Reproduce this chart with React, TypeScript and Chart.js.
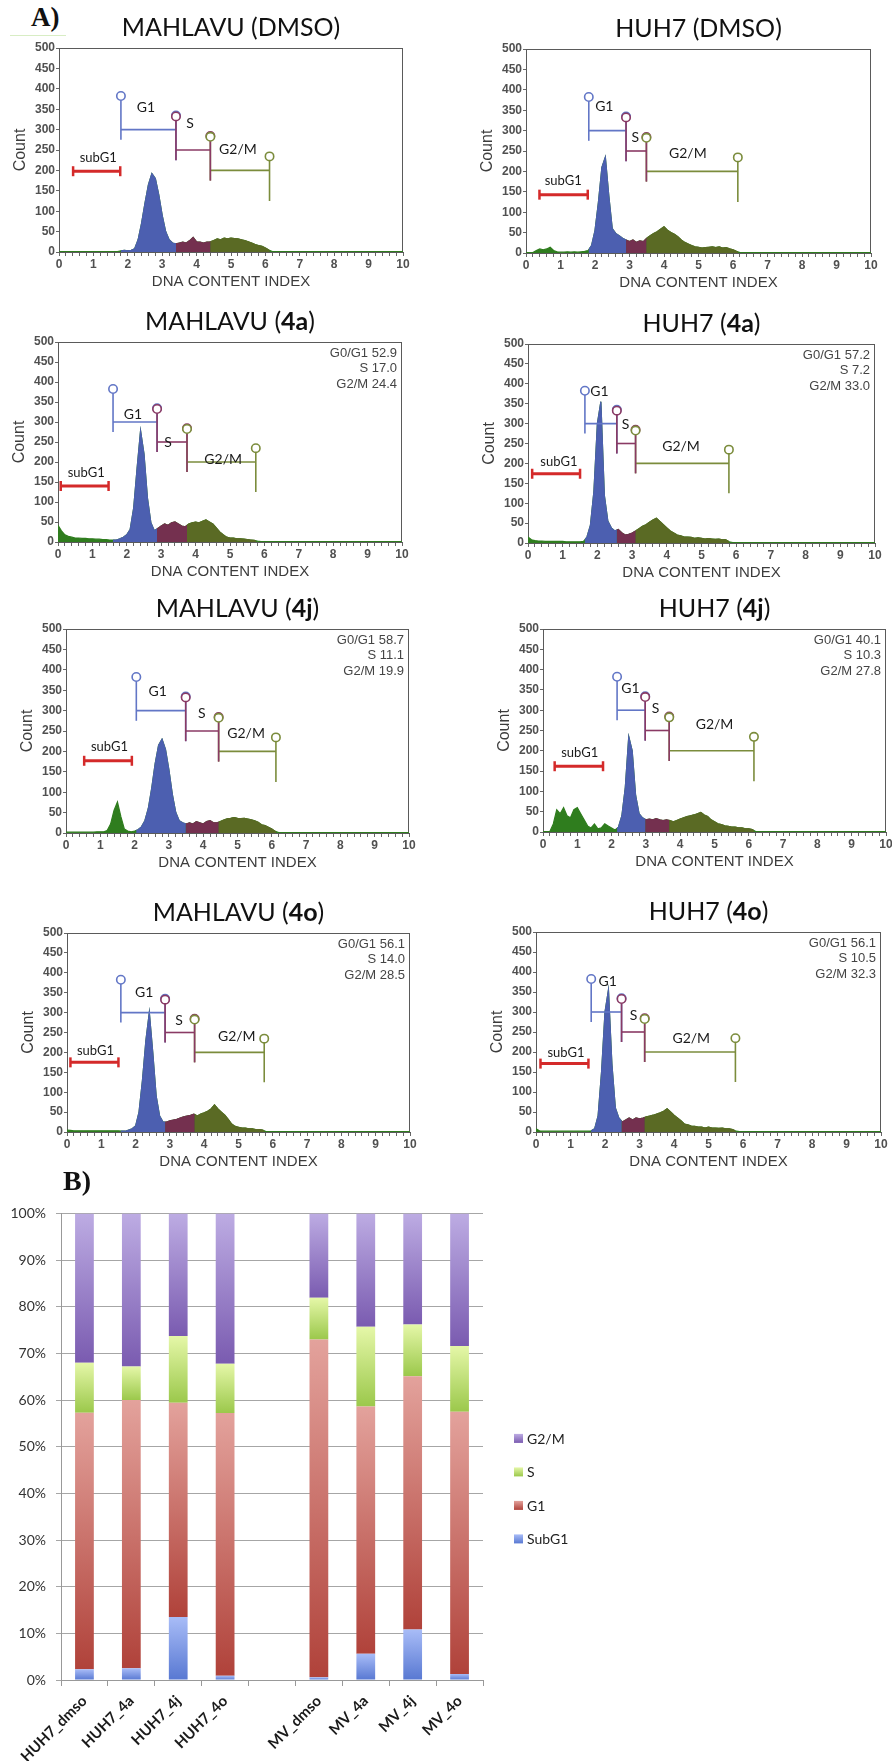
import React, { useEffect, useRef } from "react";
import { Chart, registerables } from "chart.js";

// ---------- clip plugin (registered before Filler so the fill is clipped to each gate) ----------
const gateClipPlugin = {
  id: "gateClip",
  beforeDatasetDraw(chart: any, args: any) {
    const ds = chart.data.datasets[args.index];
    if (!ds || !ds.clipRange) return;
    const { ctx, chartArea, scales } = chart;
    const x1 = scales.x.getPixelForValue(ds.clipRange[0]);
    const x2 = scales.x.getPixelForValue(ds.clipRange[1]);
    ctx.save();
    ctx.beginPath();
    ctx.rect(x1, chartArea.top - 5, x2 - x1, chartArea.bottom - chartArea.top + 10);
    ctx.clip();
  },
  afterDatasetDraw(chart: any, args: any) {
    const ds = chart.data.datasets[args.index];
    if (ds && ds.clipRange) chart.ctx.restore();
  },
};
Chart.register(gateClipPlugin);
Chart.register(...registerables);

// ---------- DATA: histograms, counts per DNA-index bin (0.0 .. 10.0, step 0.1) ----------
const MV_DMSO = [
  1, 1, 1, 1, 1, 1, 1, 1, 1, 1,
  1, 1, 1, 1, 1, 1, 1, 1, 3, 4,
  3, 4, 8, 30, 70, 120, 165, 192, 180, 140,
  90, 50, 30, 22, 20, 22, 24, 22, 28, 36,
  25, 24, 22, 24, 25, 28, 32, 30, 34, 32,
  34, 33, 32, 30, 28, 25, 22, 18, 16, 14,
  10, 5, 1, 1, 1, 1, 1, 1, 1, 1,
  1, 1, 1, 1, 1, 1, 1, 1, 1, 1,
  1, 1, 1, 1, 1, 1, 1, 1, 1, 1,
  1, 1, 1, 1, 1, 1, 1, 1, 1, 1,
  1,
];
const HUH7_DMSO = [
  1, 1, 1, 6, 10, 8, 10, 14, 6, 3,
  2, 2, 3, 2, 3, 2, 3, 4, 6, 18,
  55, 125, 210, 235, 140, 60, 48, 42, 36, 32,
  28, 32, 26, 30, 28, 36, 42, 48, 52, 58,
  64, 56, 50, 46, 40, 32, 26, 22, 18, 15,
  14, 12, 13, 14, 15, 13, 15, 12, 13, 10,
  8, 4, 1, 1, 1, 1, 1, 1, 1, 1,
  1, 1, 1, 1, 1, 1, 1, 1, 1, 1,
  1, 1, 1, 1, 1, 1, 1, 1, 1, 1,
  1, 1, 1, 1, 1, 1, 1, 1, 1, 1,
  1,
];
const MV_4A = [
  42, 28, 18, 14, 12, 10, 10, 9, 9, 8,
  8, 7, 7, 6, 6, 5, 5, 5, 8, 12,
  18, 32, 85, 185, 278, 220, 110, 48, 28, 34,
  40, 45, 42, 48, 50, 45, 40, 38, 45, 48,
  50, 48, 52, 55, 50, 45, 35, 25, 18, 12,
  10, 10, 8, 8, 7, 6, 5, 4, 2, 1,
  1, 1, 1, 1, 1, 1, 1, 1, 1, 1,
  1, 1, 1, 1, 1, 1, 1, 1, 1, 1,
  1, 1, 1, 1, 1, 1, 1, 1, 1, 1,
  1, 1, 1, 1, 1, 1, 1, 1, 1, 1,
  1,
];
const HUH7_4A = [
  15, 8, 6, 5, 5, 4, 4, 4, 4, 4,
  4, 3, 3, 3, 3, 3, 4, 15, 45, 130,
  300, 355, 120, 55, 38, 30, 34, 26, 20, 22,
  25, 30, 36, 42, 46, 52, 58, 62, 54, 46,
  38, 30, 25, 20, 18, 15, 15, 14, 12, 13,
  12, 10, 11, 10, 9, 10, 8, 8, 3, 1,
  1, 1, 1, 1, 1, 1, 1, 1, 1, 1,
  1, 1, 1, 1, 1, 1, 1, 1, 1, 1,
  1, 1, 1, 1, 1, 1, 1, 1, 1, 1,
  1, 1, 1, 1, 1, 1, 1, 1, 1, 1,
  1,
];
const MV_4J = [
  2, 2, 2, 2, 2, 2, 2, 2, 2, 3,
  3, 3, 6, 22, 55, 76, 40, 10, 5, 3,
  5, 8, 15, 30, 60, 110, 170, 215, 230, 205,
  155, 95, 50, 30, 25, 22, 25, 22, 28, 25,
  22, 28, 30, 25, 25, 28, 32, 35, 36, 38,
  36, 35, 36, 34, 32, 30, 26, 20, 18, 14,
  10, 4, 1, 1, 1, 1, 1, 1, 1, 1,
  1, 1, 1, 1, 1, 1, 1, 1, 1, 1,
  1, 1, 1, 1, 1, 1, 1, 1, 1, 1,
  1, 1, 1, 1, 1, 1, 1, 1, 1, 1,
  1,
];
const HUH7_4J = [
  1, 1, 1, 20, 55, 45, 60, 40, 35, 55,
  60, 45, 30, 15, 10, 20, 8, 10, 20, 15,
  10, 5, 12, 40, 110, 235, 200, 90, 45, 35,
  30, 32, 30, 33, 30, 28, 30, 28, 25, 28,
  32, 35, 38, 40, 42, 45, 48, 42, 38, 30,
  25, 20, 18, 15, 14, 12, 12, 10, 10, 8,
  8, 6, 1, 1, 1, 1, 1, 1, 1, 1,
  1, 1, 1, 1, 1, 1, 1, 1, 1, 1,
  1, 1, 1, 1, 1, 1, 1, 1, 1, 1,
  1, 1, 1, 1, 1, 1, 1, 1, 1, 1,
  1,
];
const MV_4O = [
  5, 4, 3, 3, 3, 3, 3, 3, 3, 3,
  3, 3, 3, 3, 3, 3, 2, 2, 5, 8,
  15, 50, 130, 230, 300, 200, 90, 40, 25, 25,
  28, 30, 32, 35, 38, 40, 42, 45, 40, 45,
  48, 52, 58, 68, 58, 50, 42, 32, 20, 14,
  12, 10, 10, 8, 8, 6, 6, 5, 1, 1,
  1, 1, 1, 1, 1, 1, 1, 1, 1, 1,
  1, 1, 1, 1, 1, 1, 1, 1, 1, 1,
  1, 1, 1, 1, 1, 1, 1, 1, 1, 1,
  1, 1, 1, 1, 1, 1, 1, 1, 1, 1,
  1,
];
const HUH7_4O = [
  8, 3, 2, 2, 2, 2, 2, 2, 2, 2,
  2, 2, 2, 2, 2, 2, 3, 8, 40, 150,
  300, 355, 170, 60, 35, 25, 30, 35, 30, 35,
  33, 35, 38, 40, 42, 45, 48, 52, 58, 50,
  42, 35, 28, 20, 18, 15, 14, 12, 12, 10,
  12, 10, 10, 9, 10, 8, 8, 6, 2, 1,
  1, 1, 1, 1, 1, 1, 1, 1, 1, 1,
  1, 1, 1, 1, 1, 1, 1, 1, 1, 1,
  1, 1, 1, 1, 1, 1, 1, 1, 1, 1,
  1, 1, 1, 1, 1, 1, 1, 1, 1, 1,
  1,
];

// gate boundaries (DNA index): G1 start, G1 end / S start, S end / G2M start, G2M end
const GATES_MV_DMSO = [1.8, 3.4, 4.4, 6.12];
const GATES_HUH7_DMSO = [1.82, 2.9, 3.49, 6.14];
const GATES_MV_4A = [1.6, 2.88, 3.75, 5.75];
const GATES_HUH7_4A = [1.64, 2.56, 3.1, 5.79];
const GATES_MV_4J = [2.05, 3.49, 4.45, 6.12];
const GATES_HUH7_4J = [2.16, 2.98, 3.68, 6.15];
const GATES_MV_4O = [1.57, 2.86, 3.72, 5.75];
const GATES_HUH7_4O = [1.6, 2.48, 3.15, 5.78];

// subG1 marker: [start, end, count level]
const SUBG1_MV_DMSO = [0.41, 1.78, 198];
const SUBG1_HUH7_DMSO = [0.39, 1.79, 143];
const SUBG1_MV_4A = [0.08, 1.47, 140];
const SUBG1_HUH7_4A = [0.12, 1.5, 174];
const SUBG1_MV_4J = [0.53, 1.92, 177];
const SUBG1_HUH7_4J = [0.34, 1.75, 162];
const SUBG1_MV_4O = [0.1, 1.5, 175];
const SUBG1_HUH7_4O = [0.13, 1.52, 171];

// gate label anchors (DNA index, count): G1, S, G2/M, subG1
const LABELS_MV_DMSO = [[2.53, 355], [3.81, 316], [5.2, 252], [1.14, 232]];
const LABELS_HUH7_DMSO = [[2.27, 358], [3.17, 283], [4.69, 243], [1.08, 176]];
const LABELS_MV_4A = [[2.18, 320], [3.2, 248], [4.8, 207], [0.82, 173]];
const LABELS_HUH7_4A = [[2.06, 381], [2.81, 297], [4.41, 243], [0.89, 205]];
const LABELS_MV_4J = [[2.67, 348], [3.96, 293], [5.25, 243], [1.27, 211]];
const LABELS_HUH7_4J = [[2.55, 353], [3.28, 304], [5.0, 264], [1.07, 195]];
const LABELS_MV_4O = [[2.25, 351], [3.27, 280], [4.95, 240], [0.83, 203]];
const LABELS_HUH7_4O = [[2.08, 377], [2.83, 291], [4.5, 235], [0.87, 199]];

const STATS_MV_4A = ["G0/G1 52.9", "S 17.0", "G2/M 24.4"];
const STATS_HUH7_4A = ["G0/G1 57.2", "S 7.2", "G2/M 33.0"];
const STATS_MV_4J = ["G0/G1 58.7", "S 11.1", "G2/M 19.9"];
const STATS_HUH7_4J = ["G0/G1 40.1", "S 10.3", "G2/M 27.8"];
const STATS_MV_4O = ["G0/G1 56.1", "S 14.0", "G2/M 28.5"];
const STATS_HUH7_4O = ["G0/G1 56.1", "S 10.5", "G2/M 32.3"];

const GATE_NAMES = ["G1", "S", "G2/M", "subG1"];
const GATE_LEVELS = [300, 250, 200];
const X_TICK_LABELS = ["0", "1", "2", "3", "4", "5", "6", "7", "8", "9", "10"];

// ---------- DATA: panel B (percent of cells) ----------
const SAMPLES = ["HUH7_dmso", "HUH7_4a", "HUH7_4j", "HUH7_4o", "", "MV_dmso", "MV_4a", "MV_4j", "MV_4o"];
const PCT_SUBG1 = [2.3, 2.5, 13.5, 0.9, null, 0.6, 5.6, 10.8, 1.3];
const PCT_G1 = [55.0, 57.5, 45.9, 56.3, null, 72.4, 53.0, 54.3, 56.2];
const PCT_S = [10.7, 7.2, 14.3, 10.6, null, 8.9, 17.1, 11.1, 14.1];
const PCT_G2M = [32.0, 32.8, 26.3, 32.2, null, 18.1, 24.3, 23.8, 28.4];
const PCT_TICKS = ["0%", "10%", "20%", "30%", "40%", "50%", "60%", "70%", "80%", "90%", "100%"];

// ---------- styles ----------
const C_BLUE = "#4c5fb0";
const C_MAROON = "#74304f";
const C_OLIVE = "#5a6a24";
const C_GREEN = "#2f7d1e";
const GATE_COLORS = ["#6276c6", "#8a3a64", "#7b8c3c"];
const C_SUBG1 = "#d42a2a";
const FRAME = "#5a5a5a";

// plot area boxes on the page [left, top, right, bottom]
const PANELS = [
  { cell: "MAHLAVU", drug: "DMSO", bold: false, counts: MV_DMSO, gates: GATES_MV_DMSO, subg1: SUBG1_MV_DMSO, labels: LABELS_MV_DMSO, stats: null, box: [59, 48, 403, 252] },
  { cell: "HUH7", drug: "DMSO", bold: false, counts: HUH7_DMSO, gates: GATES_HUH7_DMSO, subg1: SUBG1_HUH7_DMSO, labels: LABELS_HUH7_DMSO, stats: null, box: [526, 49, 871, 253] },
  { cell: "MAHLAVU", drug: "4a", bold: true, counts: MV_4A, gates: GATES_MV_4A, subg1: SUBG1_MV_4A, labels: LABELS_MV_4A, stats: STATS_MV_4A, box: [58, 342, 402, 542] },
  { cell: "HUH7", drug: "4a", bold: true, counts: HUH7_4A, gates: GATES_HUH7_4A, subg1: SUBG1_HUH7_4A, labels: LABELS_HUH7_4A, stats: STATS_HUH7_4A, box: [528, 344, 875, 543] },
  { cell: "MAHLAVU", drug: "4j", bold: true, counts: MV_4J, gates: GATES_MV_4J, subg1: SUBG1_MV_4J, labels: LABELS_MV_4J, stats: STATS_MV_4J, box: [66, 629, 409, 833] },
  { cell: "HUH7", drug: "4j", bold: true, counts: HUH7_4J, gates: GATES_HUH7_4J, subg1: SUBG1_HUH7_4J, labels: LABELS_HUH7_4J, stats: STATS_HUH7_4J, box: [543, 629, 886, 832] },
  { cell: "MAHLAVU", drug: "4o", bold: true, counts: MV_4O, gates: GATES_MV_4O, subg1: SUBG1_MV_4O, labels: LABELS_MV_4O, stats: STATS_MV_4O, box: [67, 933, 410, 1132] },
  { cell: "HUH7", drug: "4o", bold: true, counts: HUH7_4O, gates: GATES_HUH7_4O, subg1: SUBG1_HUH7_4O, labels: LABELS_HUH7_4O, stats: STATS_HUH7_4O, box: [536, 932, 881, 1132] },
];

const PAD_L = 60, PAD_T = 45, PAD_R = 12, PAD_B = 42;

function line(ctx: CanvasRenderingContext2D, x1: number, y1: number, x2: number, y2: number) {
  ctx.beginPath();
  ctx.moveTo(x1, y1);
  ctx.lineTo(x2, y2);
  ctx.stroke();
}

function flowAnnotations(p: any) {
  return {
    id: "flowAnnot",
    beforeDatasetsDraw(chart: any) {
      const { ctx, chartArea: a } = chart;
      ctx.save();
      ctx.strokeStyle = FRAME;
      ctx.lineWidth = 1;
      line(ctx, a.left, a.top + 0.5, a.right, a.top + 0.5);
      line(ctx, a.right - 0.5, a.top, a.right - 0.5, a.bottom);
      ctx.restore();
    },
    afterDraw(chart: any) {
      const { ctx, chartArea: a, scales } = chart;
      const X = (v: number) => scales.x.getPixelForValue(v);
      const Y = (v: number) => scales.y.getPixelForValue(v);
      const g = p.gates;
      const gates = [
        [g[0], g[1], GATE_LEVELS[0], GATE_COLORS[0]],
        [g[1], g[2], GATE_LEVELS[1], GATE_COLORS[1]],
        [g[2], g[3], GATE_LEVELS[2], GATE_COLORS[2]],
      ];
      ctx.save();
      ctx.lineWidth = 1.6;
      // gate lines (S drawn last so shared markers show S colour)
      for (const idx of [0, 2, 1]) {
        const [x1, x2, lvl, col] = gates[idx] as any;
        ctx.strokeStyle = col;
        line(ctx, X(x1), Y(lvl), X(x2), Y(lvl));
        line(ctx, X(x1), Y(lvl - 25), X(x1), Y(lvl + 72));
        line(ctx, X(x2), Y(lvl - 75), X(x2), Y(lvl + 24));
      }
      const R = 4.2;
      for (const idx of [0, 1, 2]) {
        const [x1, x2, lvl, col] = gates[idx] as any;
        ctx.strokeStyle = col;
        ctx.fillStyle = "#fff";
        for (const [cx, cy] of [[X(x1), Y(lvl + 72) - R], [X(x2), Y(lvl + 24) - R]]) {
          ctx.beginPath();
          ctx.arc(cx, cy, R, 0, Math.PI * 2);
          ctx.fill();
          ctx.stroke();
        }
      }
      // subG1 marker
      const [s1, s2, sl] = p.subg1;
      ctx.strokeStyle = C_SUBG1;
      ctx.lineWidth = 3;
      line(ctx, X(s1), Y(sl), X(s2), Y(sl));
      ctx.lineWidth = 2.5;
      line(ctx, X(s1), Y(sl) - 5, X(s1), Y(sl) + 5);
      line(ctx, X(s2), Y(sl) - 5, X(s2), Y(sl) + 5);
      // gate labels
      ctx.fillStyle = "#1a1a1a";
      ctx.textAlign = "center";
      ctx.textBaseline = "middle";
      p.labels.forEach((lp: number[], i: number) => {
        ctx.font = i === 3 ? "13px Lato" : "14px Lato";
        ctx.fillText(GATE_NAMES[i], X(lp[0]), Y(lp[1]));
      });
      // stats
      if (p.stats) {
        ctx.font = '13px "Liberation Sans"';
        ctx.fillStyle = "#444";
        ctx.textAlign = "right";
        p.stats.forEach((s: string, i: number) => ctx.fillText(s, a.right - 5, a.top + 11 + i * 15.5));
      }
      // title
      const parts = [
        { t: p.cell + " (", b: false },
        { t: p.drug, b: p.bold },
        { t: ")", b: false },
      ];
      const fontOf = (b: boolean) => (b ? "bold 25px Lato" : "25px Lato");
      let total = 0;
      for (const pt of parts) {
        ctx.font = fontOf(pt.b);
        total += ctx.measureText(pt.t).width;
      }
      let tx = (a.left + a.right) / 2 - total / 2;
      ctx.textAlign = "left";
      ctx.fillStyle = "#111";
      for (const pt of parts) {
        ctx.font = fontOf(pt.b);
        ctx.fillText(pt.t, tx, a.top - 20);
        tx += ctx.measureText(pt.t).width;
      }
      // axis titles
      ctx.fillStyle = "#3c3c3c";
      ctx.textAlign = "center";
      ctx.font = '15px "Liberation Sans"';
      ctx.fillText("DNA CONTENT INDEX", (a.left + a.right) / 2, a.bottom + 30);
      ctx.translate(a.left - 38, (a.top + a.bottom) / 2);
      ctx.rotate(-Math.PI / 2);
      ctx.font = '16px "Liberation Sans"';
      ctx.fillText("Count", 0, 0);
      ctx.restore();
    },
  };
}

function Histogram({ p }: { p: any }) {
  const ref = useRef<HTMLCanvasElement>(null);
  const [l, t, r, b] = p.box;
  const W = r - l + PAD_L + PAD_R;
  const H = b - t + PAD_T + PAD_B;
  useEffect(() => {
    const pts = () => p.counts.map((v: number, i: number) => ({ x: Math.round(i) / 10, y: v }));
    const g = p.gates;
    const mk = (color: string, clipRange: number[] | null) => ({
      data: pts(),
      borderColor: color,
      backgroundColor: color,
      borderWidth: 1.2,
      pointRadius: 0,
      fill: "origin",
      tension: 0,
      clipRange,
    });
    const tickFont = { family: "Liberation Sans", size: 12, weight: "bold" as any };
    const chart = new Chart(ref.current as HTMLCanvasElement, {
      type: "line",
      data: {
        datasets: [
          mk(C_BLUE, [g[0], g[1]]),
          mk(C_MAROON, [g[1], g[2]]),
          mk(C_OLIVE, [g[2], g[3]]),
          mk(C_GREEN, null),
        ] as any,
      },
      options: {
        animation: false,
        responsive: false,
        maintainAspectRatio: false,
        layout: { padding: { top: PAD_T, right: PAD_R, left: 0, bottom: 0 } },
        plugins: { legend: { display: false }, tooltip: { enabled: false } },
        scales: {
          x: {
            type: "linear",
            min: 0,
            max: 10,
            afterFit: (s: any) => { s.height = PAD_B; },
            ticks: {
              stepSize: 0.2,
              autoSkip: false,
              maxRotation: 0,
              padding: 1,
              color: "#505050",
              font: tickFont,
              callback: (v: any) => {
                const n = Math.round(v);
                return Math.abs(v - n) < 1e-6 ? X_TICK_LABELS[n] : "";
              },
            },
            grid: { drawOnChartArea: false, tickLength: 4, color: "#666" },
            border: { color: FRAME },
          },
          y: {
            min: 0,
            max: 500,
            afterFit: (s: any) => { s.width = PAD_L; },
            ticks: { stepSize: 50, padding: 1, color: "#505050", font: tickFont },
            grid: { drawOnChartArea: false, tickLength: 3, color: "#666" },
            border: { color: FRAME },
          },
        },
      } as any,
      plugins: [flowAnnotations(p)],
    });
    return () => chart.destroy();
  }, []);
  return (
    <canvas
      ref={ref}
      width={W}
      height={H}
      style={{ position: "absolute", left: l - PAD_L, top: t - PAD_T, width: W, height: H }}
    />
  );
}

// ---------- panel B ----------
const SEG_COLORS = [
  ["#a8bcf7", "#5878d2"], // SubG1
  ["#e3a29c", "#b0423a"], // G1
  ["#e5f7a8", "#9bc84b"], // S
  ["#bdace3", "#7a5bb0"], // G2/M
];

function PhaseBars() {
  const ref = useRef<HTMLCanvasElement>(null);
  useEffect(() => {
    const series = [PCT_SUBG1, PCT_G1, PCT_S, PCT_G2M];
    const names = ["SubG1", "G1", "S", "G2/M"];
    const grad = (d: number) => (c: any) => {
      const chart = c.chart;
      const { ctx, chartArea, scales } = chart;
      if (!chartArea || c.type !== "data" || !scales.y) return SEG_COLORS[d][1];
      const i = c.dataIndex;
      let start = 0;
      for (let k = 0; k < d; k++) start += (series[k][i] as number) || 0;
      const end = start + ((series[d][i] as number) || 0);
      const y1 = scales.y.getPixelForValue(end);
      const y0 = scales.y.getPixelForValue(start);
      if (!isFinite(y1) || !isFinite(y0) || y0 === y1) return SEG_COLORS[d][1];
      const gr = ctx.createLinearGradient(0, y1, 0, y0);
      gr.addColorStop(0, SEG_COLORS[d][0]);
      gr.addColorStop(1, SEG_COLORS[d][1]);
      return gr;
    };
    const legendPlugin = {
      id: "phaseLegend",
      afterDraw(chart: any) {
        const { ctx, chartArea: a } = chart;
        ctx.save();
        const order = [3, 2, 1, 0];
        order.forEach((d, k) => {
          const y = a.top + 225 + k * 33.5;
          const x = a.right + 31;
          const gr = ctx.createLinearGradient(0, y - 4.5, 0, y + 4.5);
          gr.addColorStop(0, SEG_COLORS[d][0]);
          gr.addColorStop(1, SEG_COLORS[d][1]);
          ctx.fillStyle = gr;
          ctx.fillRect(x, y - 4.5, 9, 9);
          ctx.fillStyle = "#222";
          ctx.font = "14px Lato";
          ctx.textAlign = "left";
          ctx.textBaseline = "middle";
          ctx.fillText(names[d], x + 13, y + 1);
        });
        ctx.restore();
      },
    };
    const chart = new Chart(ref.current as HTMLCanvasElement, {
      type: "bar",
      data: {
        labels: SAMPLES,
        datasets: series.map((s, d) => ({
          label: names[d],
          data: s,
          backgroundColor: grad(d),
          borderWidth: 0,
          barPercentage: 0.4,
          categoryPercentage: 1,
        })) as any,
      },
      options: {
        animation: false,
        responsive: false,
        maintainAspectRatio: false,
        layout: { padding: { top: 12, right: 409, left: 0, bottom: 0 } },
        plugins: { legend: { display: false }, tooltip: { enabled: false } },
        scales: {
          x: {
            stacked: true,
            afterFit: (s: any) => { s.height = 81; },
            grid: { drawOnChartArea: false, tickLength: 6, color: "#999", offset: true },
            border: { color: "#999" },
            ticks: {
              autoSkip: false,
              maxRotation: 45,
              minRotation: 45,
              padding: 6,
              color: "#1a1a1a",
              font: { family: "Lato", size: 15, weight: "bold" as any },
            },
          },
          y: {
            stacked: true,
            min: 0,
            max: 100,
            afterFit: (s: any) => { s.width = 61; },
            ticks: {
              stepSize: 10,
              padding: 10,
              color: "#333",
              font: { family: "Lato", size: 14 },
              callback: (v: any) => PCT_TICKS[Math.round(v / 10)],
            },
            grid: { color: "#a6a6a6", tickLength: 5 },
            border: { color: "#999" },
          },
        },
      } as any,
      plugins: [legendPlugin],
    });
    return () => chart.destroy();
  }, []);
  return (
    <canvas
      ref={ref}
      width={892}
      height={566}
      style={{ position: "absolute", left: 0, top: 1195, width: 892, height: 566 }}
    />
  );
}

export default function App() {
  useEffect(() => {
    document.body.style.margin = "0";
  }, []);
  return (
    <div style={{ position: "relative", width: 892, height: 1761, overflow: "hidden", background: "#fff" }}>
      <div style={{ position: "absolute", left: 31, top: 2, font: 'bold 27px "Liberation Serif"', lineHeight: "30px", color: "#111" }}>A)</div>
      <div style={{ position: "absolute", left: 10, top: 35, width: 56, height: 1, background: "#d8edc4" }} />
      {PANELS.map((p, i) => (
        <Histogram key={i} p={p} />
      ))}
      <div style={{ position: "absolute", left: 63, top: 1166, font: 'bold 28px "Liberation Serif"', lineHeight: "30px", color: "#111" }}>B)</div>
      <PhaseBars />
    </div>
  );
}
